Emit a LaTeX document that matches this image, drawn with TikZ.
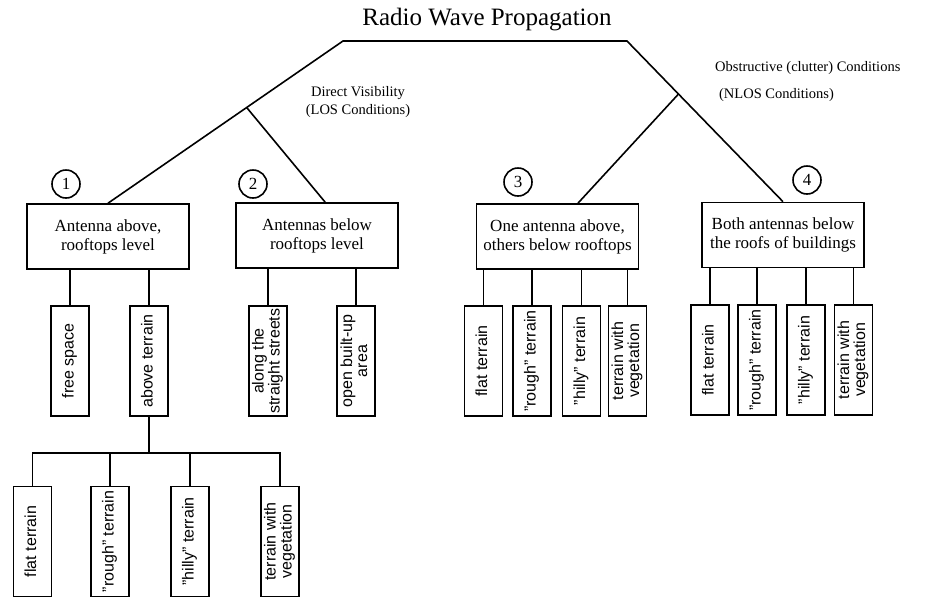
\documentclass[tikz,border=0pt]{standalone}
\usepackage{fontspec}
\setmainfont{Liberation Serif}
\setsansfont{Liberation Sans}
\usepackage{tikz}
\usetikzlibrary{calc}
\newcommand{\vlabel}[1]{\rotatebox{90}{\begin{tabular}{@{}c@{}}#1\end{tabular}}}

\begin{document}
\begin{tikzpicture}[
  x=1pt, y=-1pt, line width=1.6pt,
  box/.style={draw, minimum width=162pt, minimum height=65pt, inner sep=0pt,
              align=center, font=\fontsize{17}{19}\selectfont},
  leaf/.style={draw, minimum width=38pt, minimum height=110pt, inner sep=0pt,
               font=\sffamily\fontsize{16}{15}\selectfont},
  num/.style={draw, circle, minimum size=28pt, inner sep=0pt, font=\fontsize{17}{17}\selectfont},
  cond/.style={font=\fontsize{14.5}{18}\selectfont}
]
  \useasboundingbox (0,0) rectangle (929,598);

  \node[font=\fontsize{25}{30}\selectfont] (title) at (487,20) {Radio Wave Propagation};
  \coordinate (tl) at (343,41);
  \coordinate (tr) at (627,41);

  \node[box] (box1) at (108,236.5) {Antenna above,\\rooftops level};
  \node[box] (box2) at (317,235.5) {Antennas below\\rooftops level};
  \node[box] (box3) at (557.5,236.5) {One antenna above,\\others below rooftops};
  \node[box] (box4) at (783,235) {Both antennas below\\the roofs of buildings};

  \node[num] (n1) at (66,184) {1};
  \node[num] (n2) at (253,184) {2};
  \node[num] (n3) at (518,182) {3};
  \node[num] (n4) at (807,180) {4};

  \node[cond, align=center] (los) at (358,102) {Direct Visibility\\(LOS Conditions)};
  \node[cond, align=left, anchor=west] (nlos) at (711,82) {Obstructive (clutter) Conditions\\[9pt]\hspace*{4pt}(NLOS Conditions)};

  \coordinate (losfork) at ($(tl)!0.41!(box1.north)$);
  \coordinate (nlosfork) at ($(tr)!0.33!(box4.north)$);
  \draw (box1.north) -- (tl) -- (tr) -- (box4.north);
  \draw (losfork) -- ($(box2.north)!0.1!(box2.north east)$);
  \draw (nlosfork) -- ($(box3.north)!0.25!(box3.north east)$);

  \node[leaf] (fs) at (70,361) {\vlabel{free space}};
  \node[leaf] (at) at (149,361) {\vlabel{above terrain}};
  \node[leaf] (st) at (268,361) {\vlabel{along the\\straight streets}};
  \node[leaf] (ob) at (356,361) {\vlabel{open built-up\\area}};

  \node[leaf] (ft3) at (483.5,361) {\vlabel{flat terrain}};
  \node[leaf] (rt3) at (532,361) {\vlabel{"rough" terrain}};
  \node[leaf] (ht3) at (581.5,361) {\vlabel{"hilly" terrain}};
  \node[leaf] (vt3) at (627.5,361) {\vlabel{terrain with\\vegetation}};

  \node[leaf] (ft4) at (710,360) {\vlabel{flat terrain}};
  \node[leaf] (rt4) at (757,360) {\vlabel{"rough" terrain}};
  \node[leaf] (ht4) at (806,360) {\vlabel{"hilly" terrain}};
  \node[leaf] (vt4) at (853.5,360) {\vlabel{terrain with\\vegetation}};

  \node[leaf] (ft) at (32.5,541.5) {\vlabel{flat terrain}};
  \node[leaf] (rt) at (110,541.5) {\vlabel{"rough" terrain}};
  \node[leaf] (ht) at (190,541.5) {\vlabel{"hilly" terrain}};
  \node[leaf] (vt) at (280,541.5) {\vlabel{terrain with\\vegetation}};

  \foreach \leafname in {fs, at} \draw (box1.south -| \leafname) -- (\leafname);
  \foreach \leafname in {st, ob} \draw (box2.south -| \leafname) -- (\leafname);
  \foreach \leafname in {ft3, rt3, ht3, vt3} \draw (box3.south -| \leafname) -- (\leafname);
  \foreach \leafname in {ft4, rt4, ht4, vt4} \draw (box4.south -| \leafname) -- (\leafname);

  \coordinate (hub) at ($(at.south)+(0,36)$);
  \draw (at.south) -- (hub);
  \foreach \leafname in {ft, rt, ht, vt} \draw (\leafname) |- (hub);
\end{tikzpicture}
\end{document}
